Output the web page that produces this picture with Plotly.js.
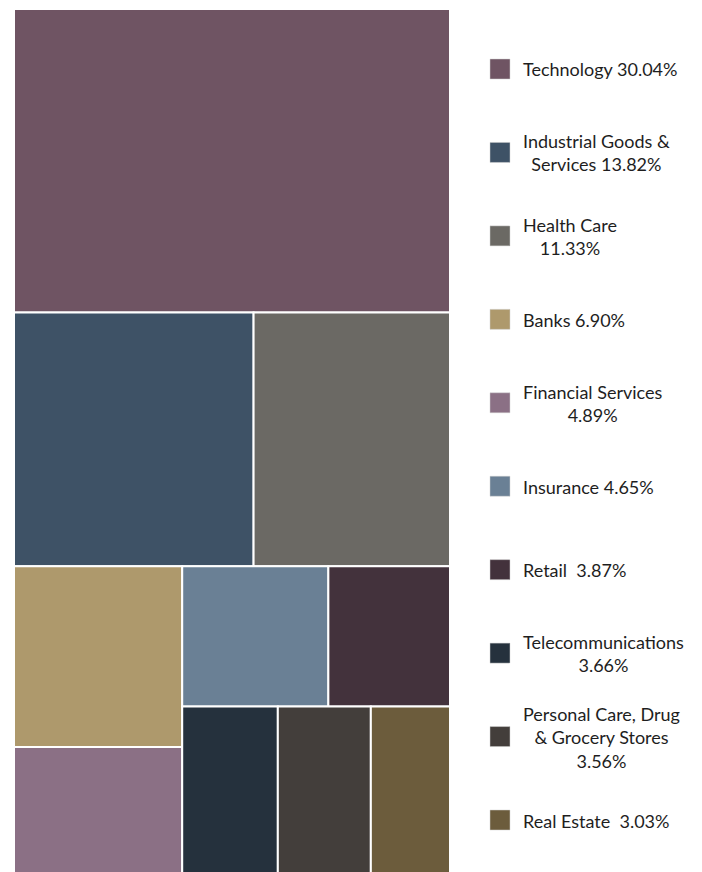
<!DOCTYPE html>
<html>
<head>
<meta charset="utf-8">
<script src="https://cdn.plot.ly/plotly-3.0.1.min.js"></script>
<style>html,body{margin:0;padding:0;background:#fff;overflow:hidden;}#chart{width:702px;height:875px;}</style>
</head>
<body>
<div id="chart"></div>
<script>
const sectors = ["Technology", "Industrial Goods & Services", "Health Care", "Banks", "Financial Services", "Insurance", "Retail", "Telecommunications", "Personal Care, Drug & Grocery Stores", "Real Estate"];
const weights = [30.04, 13.82, 11.33, 6.90, 4.89, 4.65, 3.87, 3.66, 3.56, 3.03];
const legendLabels = ["Technology 30.04%", "Industrial Goods &<br>Services 13.82%", "Health Care<br>11.33%", "Banks 6.90%", "Financial Services<br>4.89%", "Insurance 4.65%", "Retail  3.87%", "Telecommunications<br>3.66%", "Personal Care, Drug<br>& Grocery Stores<br>3.56%", "Real Estate  3.03%"];
const colors = ["#6f5463", "#3e5266", "#6b6964", "#ae996c", "#8b7085", "#6a8095", "#43323c", "#25313d", "#433e3b", "#6c5c3c"];

const W = 702, H = 875;
const trace = {
  type: "treemap",
  labels: sectors,
  parents: sectors.map(() => ""),
  values: weights,
  sort: true,
  textinfo: "none",
  hoverinfo: "label+value",
  marker: { colors: colors, line: { color: "#ffffff", width: 2 }, pad: { t: 0, l: 0, r: 0, b: 0 } },
  tiling: { packing: "squarify", squarifyratio: 1, pad: 0 },
  pathbar: { visible: false },
  domain: { x: [14 / W, 450 / W], y: [0, 1 - 9 / H] }
};

const shapes = [], annotations = [];
const y0 = 69, step = (820 - 69) / 9, sq = 20;
legendLabels.forEach((t, i) => {
  const yc = y0 + i * step;
  shapes.push({ type: "rect", xref: "paper", yref: "paper",
    x0: 490 / W, x1: (490 + sq) / W, y0: 1 - (yc - sq / 2) / H, y1: 1 - (yc + sq / 2) / H,
    fillcolor: colors[i], line: { color: "#d0d0d0", width: 0.5 } });
  annotations.push({ xref: "paper", yref: "paper", x: 521 / W, y: 1 - (yc + 0.5) / H,
    xanchor: "left", yanchor: "middle", align: "center", showarrow: false,
    text: t, font: { family: "Lato, 'Open Sans', sans-serif", size: 18, color: "#1e1e1e" } });
});

const layout = {
  width: W, height: H,
  margin: { l: 0, r: 0, t: 0, b: 0 },
  paper_bgcolor: "#ffffff",
  showlegend: false,
  shapes: shapes,
  annotations: annotations
};
Plotly.newPlot("chart", [trace], layout, { displayModeBar: false, staticPlot: true });
</script>
</body>
</html>
